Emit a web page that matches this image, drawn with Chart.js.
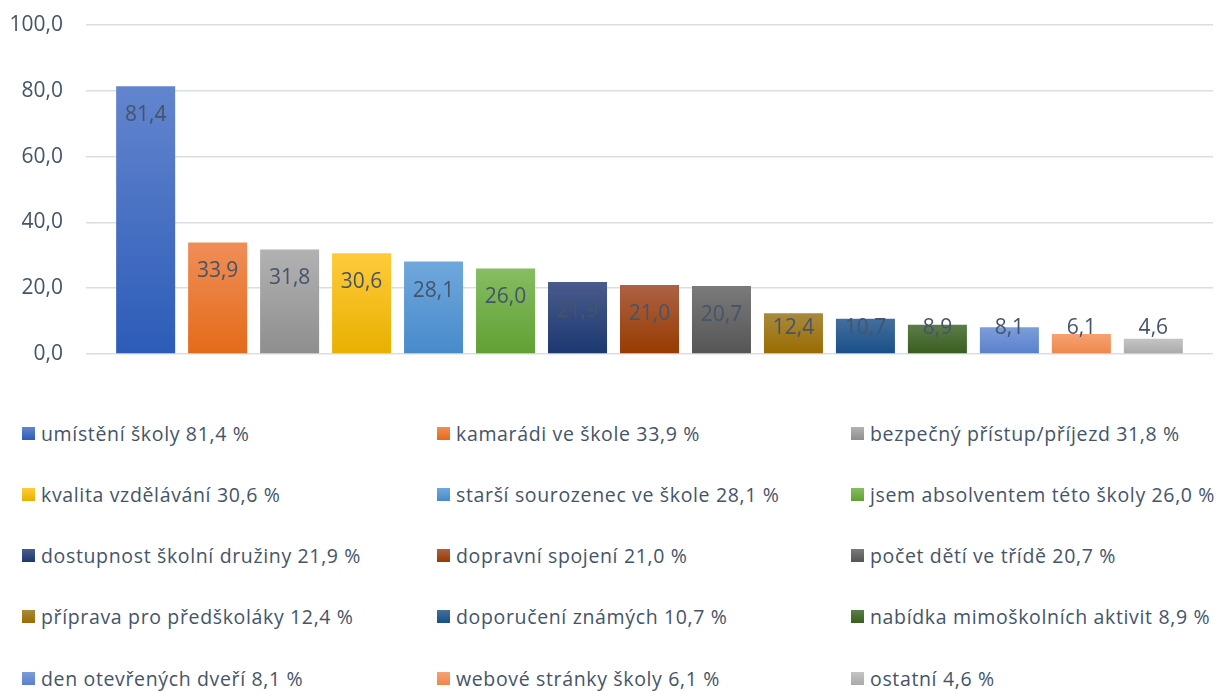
<!DOCTYPE html>
<html>
<head>
<meta charset="utf-8">
<script src="https://cdn.jsdelivr.net/npm/chart.js@4/dist/chart.umd.min.js"></script>
<style>
  body { margin: 0; background: #fff; font-family: "Open Sans", sans-serif; }
  #wrap { position: relative; width: 1222px; height: 691px; overflow: hidden; }
  #chartBox { position: absolute; left: 0; top: 0; width: 1222px; height: 380px; }
  .item { position: absolute; display: flex; align-items: center; height: 26px;
          font-size: 19.5px; letter-spacing: 0.65px; color: #44546A; white-space: nowrap; }
  .sw { width: 13px; height: 13px; margin-right: 6px; flex: none; }
</style>
</head>
<body>
<div id="wrap">
  <div id="chartBox"><canvas id="chart"></canvas></div>
  <div id="legend"></div>
</div>
<script>
const names = ['umístění školy', 'kamarádi ve škole', 'bezpečný přístup/příjezd', 'kvalita vzdělávání',
  'starší sourozenec ve škole', 'jsem absolventem této školy', 'dostupnost školní družiny', 'dopravní spojení',
  'počet dětí ve třídě', 'příprava pro předškoláky', 'doporučení známých', 'nabídka mimoškolních aktivit',
  'den otevřených dveří', 'webové stránky školy', 'ostatní'];
const values = [81.4, 33.9, 31.8, 30.6, 28.1, 26.0, 21.9, 21.0, 20.7, 12.4, 10.7, 8.9, 8.1, 6.1, 4.6];
const topColors = ['#6385CE', '#F08E58', '#B2B2B2', '#FFCB3A', '#70A8DC', '#86BD62', '#4A5B8C', '#AC6244',
  '#7A7A7A', '#A98A3C', '#436F9E', '#5C7C4A', '#7C9DDA', '#F5A274', '#C4C4C4'];
const bottomColors = ['#2C5CB8', '#E46A18', '#8E8E8E', '#E8B000', '#478ACB', '#60A034', '#1B3870', '#983A00',
  '#555555', '#9A6B00', '#184F88', '#385E1E', '#5980CC', '#EF874A', '#A9A9A9'];
const yTicks = [0, 20, 40, 60, 80, 100];

const fmt = v => v.toFixed(1).replace('.', ',');

function barGradient(context, i) {
  const chart = context.chart;
  const { ctx, chartArea, scales } = chart;
  if (!chartArea || !scales.y) return bottomColors[i];
  const y0 = scales.y.getPixelForValue(values[i]);
  const y1 = scales.y.getPixelForValue(0);
  const g = ctx.createLinearGradient(0, y0, 0, y1);
  g.addColorStop(0, topColors[i]);
  g.addColorStop(1, bottomColors[i]);
  return g;
}

// value labels inside the bar tops, like Excel "inside end"
const barLabels = {
  id: 'barLabels',
  afterDatasetsDraw(chart) {
    const ctx = chart.ctx;
    ctx.save();
    ctx.font = '21px "Open Sans"';
    ctx.fillStyle = '#44546A';
    ctx.textAlign = 'center';
    ctx.textBaseline = 'middle';
    chart.data.datasets.forEach((ds, i) => {
      const bar = chart.getDatasetMeta(i).data[0];
      const y = Math.min(bar.y + 29, bar.base - 25);
      ctx.fillText(fmt(ds.data[0]), bar.x, y);
    });
    ctx.restore();
  }
};

new Chart(document.getElementById('chart'), {
  type: 'bar',
  data: {
    labels: [''],
    datasets: names.map((n, i) => ({
      label: n,
      data: [values[i]],
      backgroundColor: ctx => barGradient(ctx, i),
      borderWidth: 0,
      categoryPercentage: 0.958,
      barPercentage: 0.82
    }))
  },
  options: {
    responsive: true,
    maintainAspectRatio: false,
    animation: false,
    layout: { padding: { top: 25, bottom: 26, left: 0, right: 9 } },
    plugins: { legend: { display: false }, tooltip: { enabled: false } },
    scales: {
      x: { display: false },
      y: {
        min: 0,
        max: 100,
        afterBuildTicks: s => { s.ticks = yTicks.map(v => ({ value: v })); },
        afterFit: s => { s.width = 86; },
        border: { display: false },
        // invisible tick marks push the labels away from the plot
        grid: { color: '#D9DEE5', lineWidth: 1.5, drawTicks: true, tickLength: 23, tickColor: 'rgba(0,0,0,0)' },
        ticks: { padding: 0, color: '#44546A', font: { family: 'Open Sans', size: 21 }, callback: v => fmt(v) }
      }
    }
  },
  plugins: [barLabels]
});

// legend in three columns below the chart
const legend = document.getElementById('legend');
const colX = [22, 437, 851];
const rowY = [433, 494, 555, 616, 678];
names.forEach((n, i) => {
  const it = document.createElement('div');
  it.className = 'item';
  it.style.left = colX[i % 3] + 'px';
  it.style.top = (rowY[Math.floor(i / 3)] - 13) + 'px';
  const sw = document.createElement('span');
  sw.className = 'sw';
  sw.style.background = `linear-gradient(${topColors[i]}, ${bottomColors[i]})`;
  const tx = document.createElement('span');
  tx.textContent = n + ' ' + fmt(values[i]) + ' %';
  it.appendChild(sw);
  it.appendChild(tx);
  legend.appendChild(it);
});
</script>
</body>
</html>
